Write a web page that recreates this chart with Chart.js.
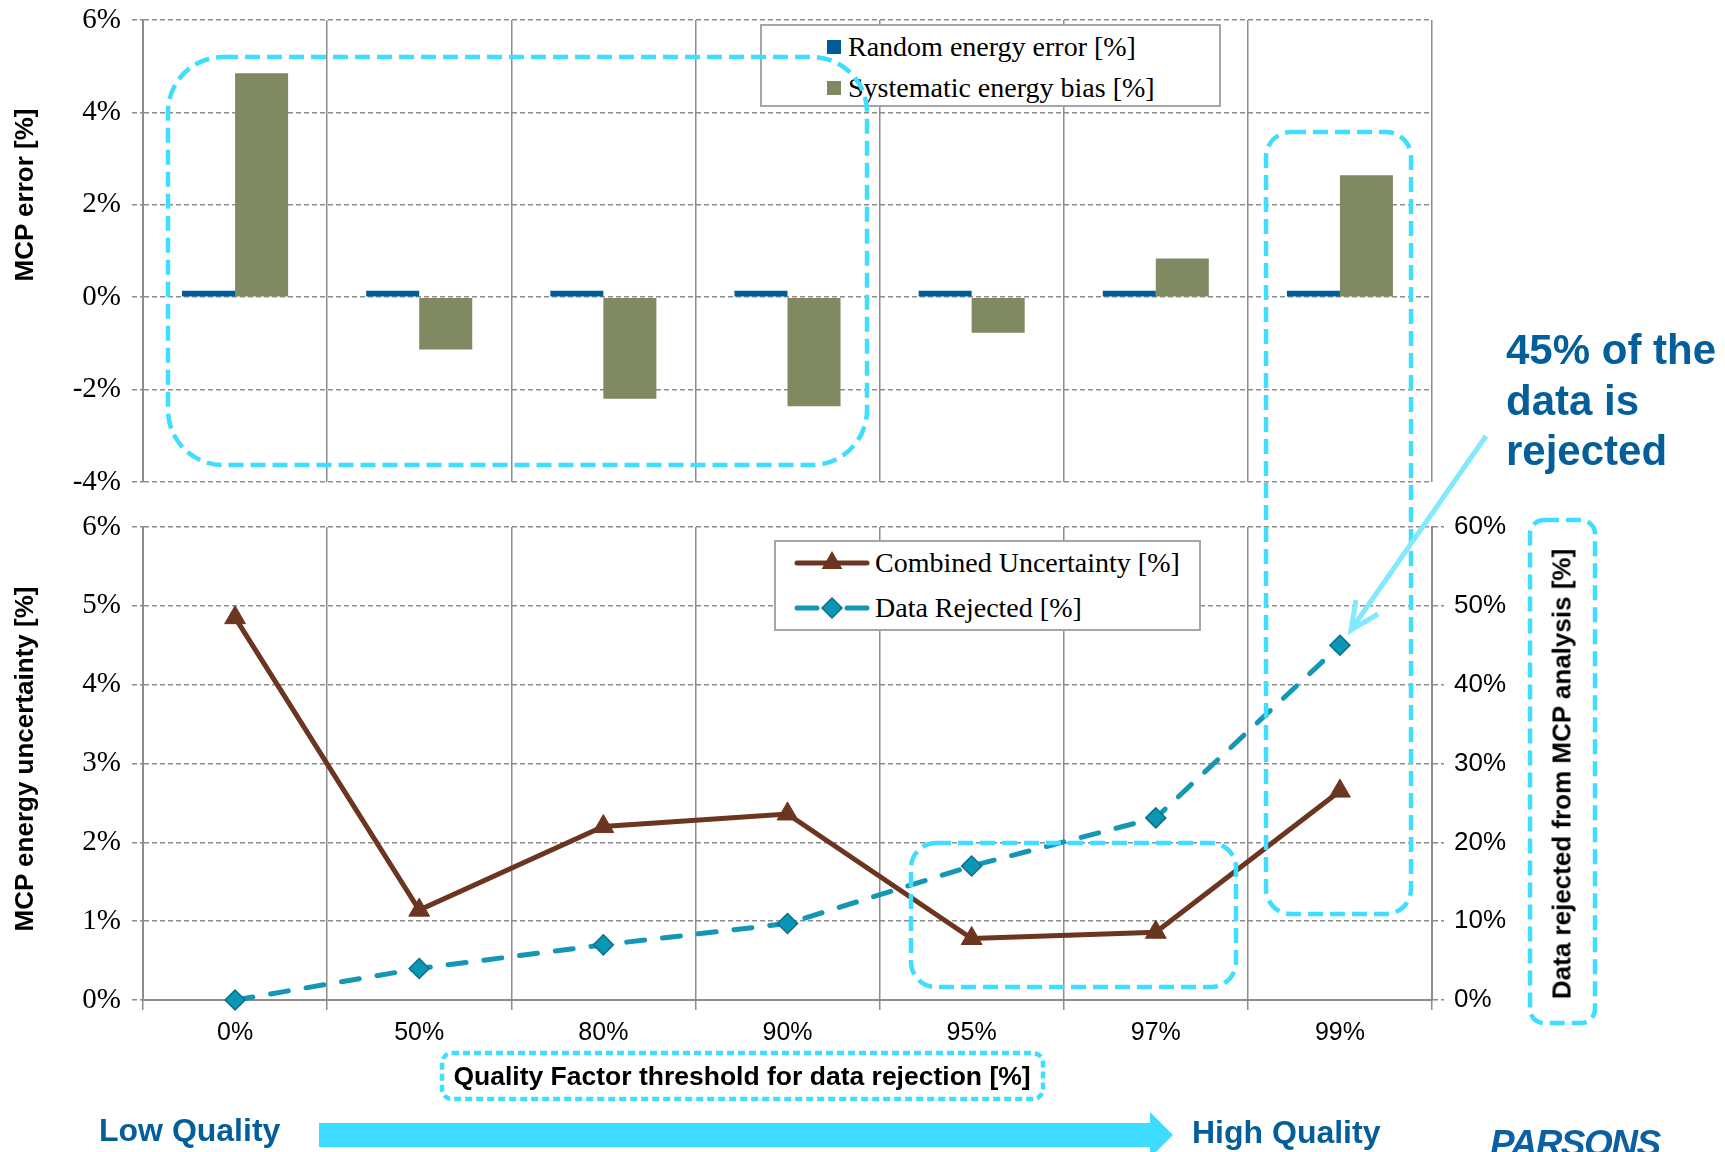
<!DOCTYPE html>
<html>
<head>
<meta charset="utf-8">
<title>MCP error vs Quality Factor threshold</title>
<script src="https://cdn.jsdelivr.net/npm/chart.js@4.4.1/dist/chart.umd.min.js"></script>
<style>
  html, body { margin: 0; padding: 0; background: #fff; }
  #page { position: relative; width: 1725px; height: 1152px; overflow: hidden;
          font-family: 'Liberation Sans', Arial, sans-serif; color: #000; }
  canvas { position: absolute; left: 0; }
  #topChart { top: 0; }
  #botChart { top: 500px; }
  .ytitle { position: absolute; font-weight: bold; font-size: 26px; white-space: nowrap;
            transform: translate(-50%, -50%) rotate(-90deg); }
  .xtitle { position: absolute; font-weight: bold; font-size: 26.5px; white-space: nowrap;
            transform: translate(-50%, -50%); }
  .legend { position: absolute; background: #fff; border: 2px solid #a6a6a6; box-sizing: border-box; }
  .legend .lbl { position: absolute; white-space: nowrap; font-family: 'Liberation Serif', 'DejaVu Serif', serif;
                 font-size: 28px; line-height: 36px; }
  .note { position: absolute; font-weight: bold; color: #035e9a; white-space: nowrap; }
  svg.overlay { position: absolute; left: 0; top: 0; pointer-events: none; }
</style>
</head>
<body>
<div id="page">
  <canvas id="topChart" width="1725" height="500"></canvas>
  <canvas id="botChart" width="1725" height="652"></canvas>

  <div class="legend" id="topLegend" style="left:760px;top:24px;width:461px;height:83px;"></div>
  <div class="legend" id="botLegend" style="left:774px;top:540px;width:427px;height:91px;"></div>

  <div class="ytitle" style="left:24px;top:195px;">MCP error [%]</div>
  <div class="ytitle" style="left:24px;top:759px;">MCP energy uncertainty [%]</div>
  <div class="ytitle" style="left:1562px;top:774px;">Data rejected from MCP analysis [%]</div>
  <div class="xtitle" style="left:742px;top:1076px;">Quality Factor threshold for data rejection [%]</div>

  <div class="note" style="left:1506px;top:325px;font-size:42px;line-height:50.5px;">45% of the<br>data is<br>rejected</div>
  <div class="note" style="left:99px;top:1114px;font-size:32px;line-height:32px;">Low Quality</div>
  <div class="note" style="left:1192px;top:1116px;font-size:32px;line-height:32px;">High Quality</div>
  <div class="note" style="left:1490px;top:1125px;font-size:37px;line-height:37px;font-style:italic;color:#0b5fa3;letter-spacing:-1.5px;">PARSONS</div>

  <svg class="overlay" width="1725" height="1152" viewBox="0 0 1725 1152">
    <g fill="none" stroke="#3fddff" stroke-width="4.5" stroke-dasharray="15 7">
      <rect x="168" y="57" width="699" height="408" rx="55" ry="55"/>
      <rect x="1266" y="132" width="145" height="782" rx="25" ry="25"/>
      <rect x="911" y="843" width="325" height="144" rx="25" ry="25"/>
      <rect x="1530" y="520" width="65" height="503" rx="14" ry="14"/>
    </g>
    <rect x="442" y="1053" width="601" height="46" rx="10" ry="10" fill="none"
          stroke="#3fddff" stroke-width="4.5" stroke-dasharray="7 4"/>
    <g fill="none" stroke="#82e9ff" stroke-width="5" stroke-linecap="butt" stroke-linejoin="miter">
      <line x1="1486" y1="436" x2="1353" y2="627"/>
      <polyline points="1356,600 1351,630 1378,614"/>
    </g>
    <polygon points="319,1123 1150,1123 1150,1112 1173,1135 1150,1158 1150,1147 319,1147" fill="#3edcff"/>
  </svg>
</div>

<script>
// Quality Factor thresholds (category axis shared by both panels)
const qualityThresholds = ['0%', '50%', '80%', '90%', '95%', '97%', '99%'];

// Upper panel: MCP error components [%]
const randomEnergyError    = [0.14, 0.14, 0.14, 0.14, 0.14, 0.14, 0.14];
const systematicEnergyBias = [4.85, -1.13, -2.20, -2.36, -0.77, 0.84, 2.64];

// Lower panel: combined uncertainty [%] and share of data rejected [%]
const combinedUncertainty = [4.85, 1.14, 2.20, 2.36, 0.78, 0.86, 2.65];
const dataRejected        = [0, 4.0, 7.0, 9.7, 17.0, 23.1, 45];

// Axis tick values
const errorAxisTicks       = [-4, -2, 0, 2, 4, 6];
const uncertaintyAxisTicks = [0, 1, 2, 3, 4, 5, 6];
const rejectedAxisTicks    = [0, 10, 20, 30, 40, 50, 60];

const GRID = '#8c8c8c';
const SERIF = "'Liberation Serif', 'DejaVu Serif', serif";
const SANS = "'Liberation Sans', Arial, sans-serif";
const pct = v => v + '%';
const stepOf = arr => arr[1] - arr[0];

// fixed axis box size; the plot edges are set by the layout padding alone
function fixWidth(w) {
  return s => { s.width = w; s.paddingTop = 0; s.paddingBottom = 0; };
}

function leftValueAxis(ticks) {
  return {
    position: 'left',
    min: ticks[0], max: ticks[ticks.length - 1],
    afterFit: fixWidth(143),
    ticks: { stepSize: stepOf(ticks), callback: pct, color: '#000', padding: 11,
             font: { family: SERIF, size: 29 } },
    grid: { color: GRID, lineWidth: 1.5, tickLength: 11, tickColor: GRID, tickBorderDash: [5, 3] },
    border: { display: true, color: GRID, width: 2, dash: [5, 3] }
  };
}

// ---- Upper panel: clustered bars ----
const topChart = new Chart(document.getElementById('topChart'), {
  type: 'bar',
  data: {
    labels: qualityThresholds,
    datasets: [
      { label: 'Random energy error [%]', data: randomEnergyError,
        backgroundColor: '#005c99', borderWidth: 0 },
      { label: 'Systematic energy bias [%]', data: systematicEnergyBias,
        backgroundColor: '#7f8a62', borderWidth: 0 }
    ]
  },
  options: {
    responsive: false, animation: false,
    layout: { padding: { top: 20, right: 293, bottom: 18, left: 0 } },
    datasets: { bar: { categoryPercentage: 0.576, barPercentage: 1.0 } },
    plugins: { legend: { display: false }, tooltip: { enabled: false } },
    scales: {
      x: {
        offset: true,
        afterFit: s => { s.height = 0; s.paddingLeft = 0; s.paddingRight = 0; },
        ticks: { display: false },
        grid: { offset: true, color: GRID, lineWidth: 1.5, drawTicks: false },
        border: { display: false }
      },
      y: leftValueAxis(errorAxisTicks)
    }
  }
});

// ---- Lower panel: lines on two value axes ----
const botChart = new Chart(document.getElementById('botChart'), {
  type: 'line',
  data: {
    labels: qualityThresholds,
    datasets: [
      { label: 'Combined Uncertainty [%]', data: combinedUncertainty, yAxisID: 'y',
        borderColor: '#6b3520', backgroundColor: '#6b3520', borderWidth: 5,
        pointStyle: 'triangle', pointRadius: 12, pointBorderWidth: 1,
        pointBackgroundColor: '#6b3520', pointBorderColor: '#6b3520',
        tension: 0, clip: false },
      { label: 'Data Rejected [%]', data: dataRejected, yAxisID: 'y1',
        borderColor: '#1497b5', backgroundColor: '#0a97b6', borderWidth: 5,
        borderDash: [18, 18], borderCapStyle: 'round',
        pointStyle: 'rectRot', pointRadius: 10, pointBorderWidth: 1.5,
        pointBackgroundColor: '#0a97b6', pointBorderColor: '#0b6f88',
        tension: 0, clip: false }
    ]
  },
  options: {
    responsive: false, animation: false,
    layout: { padding: { top: 27, right: 0, bottom: 0, left: 0 }, autoPadding: false },
    plugins: { legend: { display: false }, tooltip: { enabled: false } },
    scales: {
      x: {
        offset: true,
        afterFit: s => { s.height = 152; s.paddingLeft = 0; s.paddingRight = 0; },
        ticks: { color: '#000', padding: 8, font: { family: SANS, size: 25 } },
        grid: { offset: true, color: GRID, lineWidth: 1.5, tickLength: 10, tickColor: GRID },
        border: { display: true, color: GRID, width: 2 }
      },
      y: leftValueAxis(uncertaintyAxisTicks),
      y1: {
        position: 'right',
        min: rejectedAxisTicks[0], max: rejectedAxisTicks[rejectedAxisTicks.length - 1],
        afterFit: fixWidth(293),
        ticks: { stepSize: stepOf(rejectedAxisTicks), callback: pct, color: '#000', padding: 10,
                 font: { family: SANS, size: 26 } },
        grid: { drawOnChartArea: false, color: GRID, lineWidth: 1.5, tickLength: 12,
                tickColor: GRID, tickBorderDash: [5, 3] },
        border: { display: true, color: GRID, width: 2 }
      }
    }
  }
});

// ---- Legends built from the chart datasets ----
const SVGNS = 'http://www.w3.org/2000/svg';
function svgEl(tag, attrs) {
  const e = document.createElementNS(SVGNS, tag);
  for (const k in attrs) e.setAttribute(k, attrs[k]);
  return e;
}

function addLegendRow(box, cy, labelLeft, sample, text) {
  const lbl = document.createElement('div');
  lbl.className = 'lbl';
  lbl.style.left = labelLeft + 'px';
  lbl.style.top = (cy - 18) + 'px';
  lbl.textContent = text;
  box.appendChild(sample);
  box.appendChild(lbl);
}

(function topLegend() {
  const box = document.getElementById('topLegend');
  const rows = [21, 62];
  topChart.data.datasets.forEach((ds, i) => {
    const sw = document.createElement('div');
    sw.style.cssText = `position:absolute;left:65px;top:${rows[i] - 7}px;width:14px;height:14px;background:${ds.backgroundColor};`;
    addLegendRow(box, rows[i], 86, sw, ds.label);
  });
})();

(function botLegend() {
  const box = document.getElementById('botLegend');
  const rows = [21, 66];
  botChart.data.datasets.forEach((ds, i) => {
    const svg = svgEl('svg', { width: 90, height: 36 });
    svg.style.cssText = `position:absolute;left:12px;top:${rows[i] - 18}px;`;
    const line = svgEl('line', { x1: 9, y1: 18, x2: 79, y2: 18, stroke: ds.borderColor,
                                 'stroke-width': 5, 'stroke-linecap': 'round' });
    if (ds.borderDash) line.setAttribute('stroke-dasharray', '20 30');
    svg.appendChild(line);
    let marker;
    const cx = 44, cy = 18;
    if (ds.pointStyle === 'triangle') {
      const r = 12;
      marker = svgEl('polygon', {
        points: `${cx},${cy - r} ${cx + r * 0.866},${cy + r / 2} ${cx - r * 0.866},${cy + r / 2}`,
        fill: ds.pointBackgroundColor });
    } else {
      const r = 10;
      marker = svgEl('polygon', {
        points: `${cx - r},${cy} ${cx},${cy - r} ${cx + r},${cy} ${cx},${cy + r}`,
        fill: ds.pointBackgroundColor, stroke: ds.pointBorderColor, 'stroke-width': 1.5 });
    }
    svg.appendChild(marker);
    addLegendRow(box, rows[i], 99, svg, ds.label);
  });
})();
</script>
</body>
</html>
